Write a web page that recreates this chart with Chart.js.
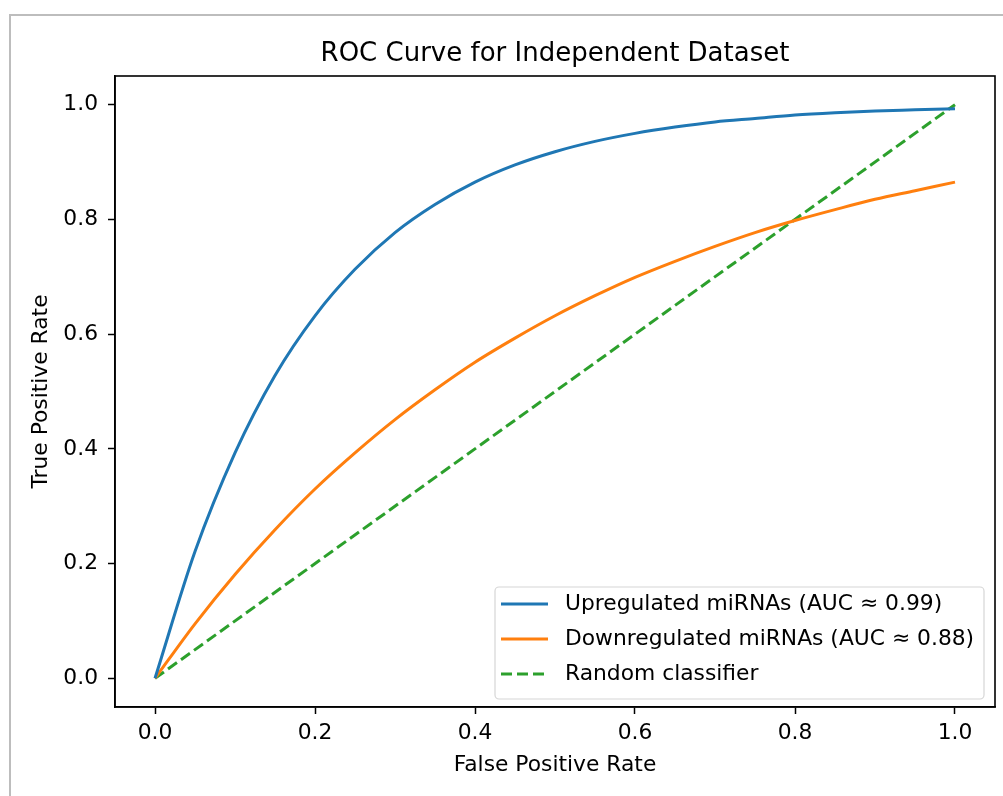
<!DOCTYPE html>
<html>
<head>
<meta charset="utf-8">
<script src="https://cdn.jsdelivr.net/npm/chart.js@4.4.1/dist/chart.umd.min.js"></script>
<style>
  html, body { margin: 0; padding: 0; background: #fff; }
  #wrap { position: relative; width: 1003px; height: 796px; overflow: hidden; }
  #frame { position: absolute; left: 9px; top: 14px; width: 1100px; height: 900px;
           border-left: 2px solid #bdbdbd; border-top: 2px solid #bdbdbd; }
  #roc { position: absolute; left: 0; top: 0; }
</style>
</head>
<body>
<div id="wrap">
  <div id="frame"></div>
  <canvas id="roc" width="1003" height="796"></canvas>
</div>
<script>
// values
const fpr = [0, 0.05, 0.1, 0.15, 0.2, 0.25, 0.3, 0.35, 0.4, 0.45, 0.5,
             0.55, 0.6, 0.65, 0.7, 0.75, 0.8, 0.85, 0.9, 0.95, 1.0];
const tprUp = [0, 0.221, 0.393, 0.528, 0.632, 0.713, 0.777, 0.826, 0.865, 0.895, 0.918,
               0.936, 0.950, 0.961, 0.970, 0.976, 0.982, 0.986, 0.989, 0.991, 0.993];
const tprDown = [0, 0.095, 0.181, 0.259, 0.330, 0.393, 0.451, 0.503, 0.551, 0.593, 0.632,
                 0.667, 0.699, 0.727, 0.753, 0.777, 0.798, 0.817, 0.835, 0.850, 0.865];
const randomX = [0, 1];
const randomY = [0, 1];
const tickVals = [0, 0.2, 0.4, 0.6, 0.8, 1.0];
const labels = ["Upregulated miRNAs (AUC \u2248 0.99)", "Downregulated miRNAs (AUC \u2248 0.88)", "Random classifier"];

const pts = (xs, ys) => xs.map((x, i) => ({ x: x, y: ys[i] }));

const FS = 21.8;
Chart.defaults.font.family = "'DejaVu Sans', sans-serif";
Chart.defaults.color = "#000";

// top/right spines
const frameBox = {
  id: "frameBox",
  afterDatasetsDraw(chart) {
    const { ctx, chartArea: a } = chart;
    ctx.save();
    ctx.strokeStyle = "#000";
    ctx.lineWidth = 1.6;
    ctx.strokeRect(a.left, a.top, a.right - a.left, a.bottom - a.top);
    ctx.restore();
  }
};

// matplotlib-like legend in the lower right corner
const boxLegend = {
  id: "boxLegend",
  afterDraw(chart) {
    const ctx = chart.ctx;
    const x0 = 495, y0 = 587, w = 489, h = 112;
    ctx.save();
    ctx.beginPath();
    ctx.roundRect(x0, y0, w, h, 4);
    ctx.fillStyle = "rgba(255,255,255,0.8)";
    ctx.fill();
    ctx.strokeStyle = "#d6d6d6";
    ctx.lineWidth = 1.2;
    ctx.stroke();
    ctx.font = FS + "px 'DejaVu Sans'";
    ctx.textBaseline = "middle";
    chart.data.datasets.forEach((ds, i) => {
      const y = 604 + i * 35;
      ctx.beginPath();
      ctx.setLineDash(ds.borderDash || []);
      ctx.strokeStyle = ds.borderColor;
      ctx.lineWidth = ds.borderWidth;
      ctx.moveTo(501, y);
      ctx.lineTo(548, y);
      ctx.stroke();
      ctx.setLineDash([]);
      ctx.fillStyle = "#000";
      ctx.fillText(ds.label, 565, y);
    });
    ctx.restore();
  }
};

const axisCommon = {
  type: "linear",
  min: -0.05,
  max: 1.05,
  grid: { display: true, drawOnChartArea: false, drawTicks: true, tickLength: 7, tickColor: "#000", tickWidth: 1.5 },
  border: { display: true, color: "#000", width: 1.6 },
  afterBuildTicks: s => { s.ticks = tickVals.map(v => ({ value: v })); }
};

new Chart(document.getElementById("roc"), {
  type: "line",
  data: {
    datasets: [
      { label: labels[0], data: pts(fpr, tprUp), borderColor: "#1f77b4", borderWidth: 3,
        pointRadius: 0, cubicInterpolationMode: "monotone", fill: false },
      { label: labels[1], data: pts(fpr, tprDown), borderColor: "#ff7f0e", borderWidth: 3,
        pointRadius: 0, cubicInterpolationMode: "monotone", fill: false },
      { label: labels[2], data: pts(randomX, randomY), borderColor: "#2ca02c", borderWidth: 3,
        borderDash: [11, 5], pointRadius: 0, fill: false }
    ]
  },
  options: {
    responsive: false,
    animation: false,
    devicePixelRatio: 1,
    layout: { padding: { left: 0, right: 8, top: 39, bottom: 0 } },
    plugins: {
      legend: { display: false },
      tooltip: { enabled: false },
      title: {
        display: true,
        fullSize: false,
        text: "ROC Curve for Independent Dataset",
        font: { size: 26, weight: "normal" },
        color: "#000",
        padding: { top: 0, bottom: 5.8 }
      }
    },
    scales: {
      x: Object.assign({}, axisCommon, {
        position: "bottom",
        ticks: { font: { size: FS }, padding: 6, maxRotation: 0, callback: v => v.toFixed(1) },
        title: { display: true, text: "False Positive Rate", font: { size: FS }, padding: { top: 0, bottom: 18 } },
        afterFit: s => { s.height = 89; }
      }),
      y: Object.assign({}, axisCommon, {
        position: "left",
        ticks: { font: { size: FS }, padding: 10, callback: v => v.toFixed(1) },
        title: { display: true, text: "True Positive Rate", font: { size: FS }, padding: { top: 28, bottom: 0 } },
        afterFit: s => { s.width = 115; }
      })
    }
  },
  plugins: [frameBox, boxLegend]
});
</script>
</body>
</html>
